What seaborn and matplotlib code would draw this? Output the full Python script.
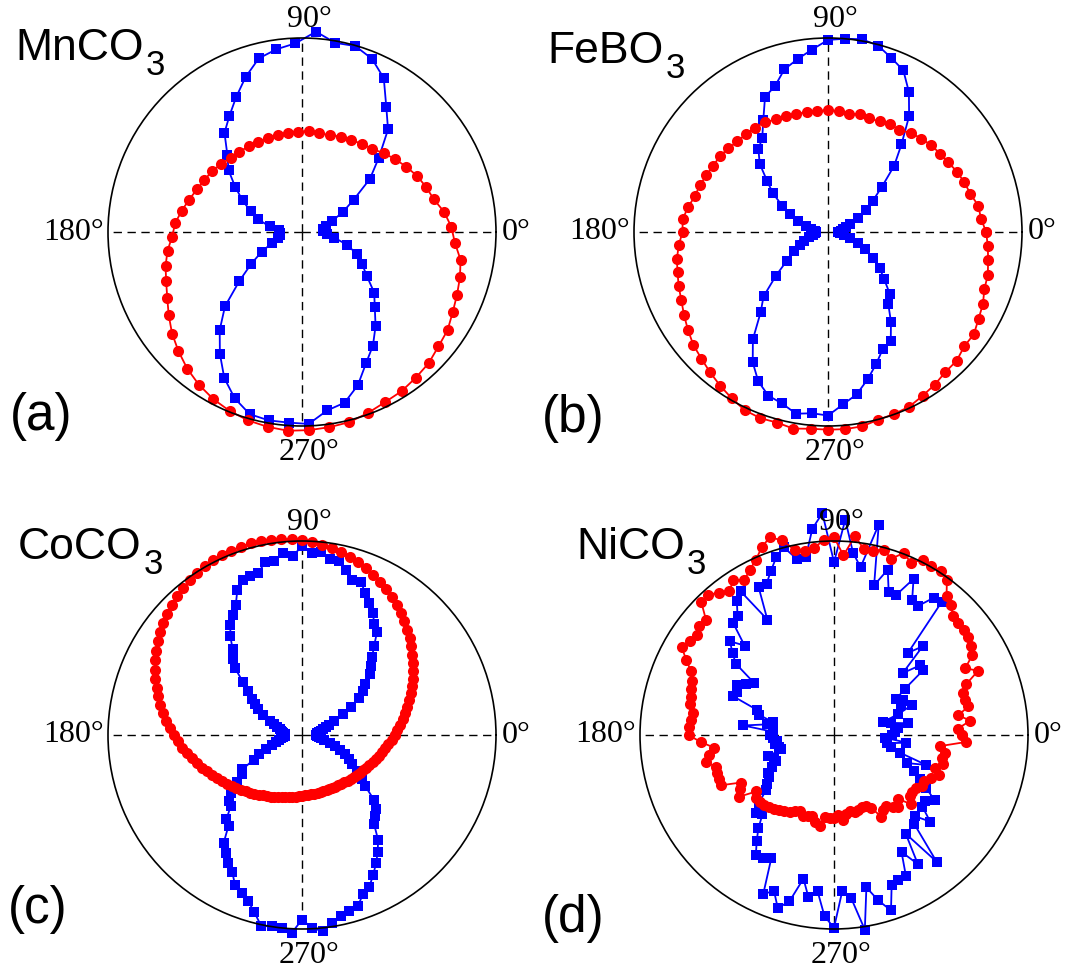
import numpy as np
import matplotlib
matplotlib.use("Agg")
import matplotlib.pyplot as plt
from matplotlib.transforms import offset_copy
import seaborn as sns

# ---------------------------------------------------------------------------
# Polar intensity patterns (normalised), angles in degrees
# ---------------------------------------------------------------------------
theta_a = np.arange(2, 360, 6)
theta_b = np.arange(0, 360, 5)
theta_cd = np.arange(0, 360, 3)

# MnCO3
mnco3_red = [0.77, 0.74, 0.70, 0.68, 0.66, 0.634, 0.61, 0.585, 0.56, 0.55,
             0.536, 0.53, 0.52, 0.516, 0.52, 0.518, 0.517, 0.515, 0.515, 0.515,
             0.52, 0.525, 0.53, 0.545, 0.56, 0.57, 0.585, 0.605, 0.63, 0.655,
             0.67, 0.70, 0.725, 0.745, 0.773, 0.81, 0.85, 0.885, 0.92, 0.95,
             0.975, 0.995, 1.01, 1.02, 1.027, 1.022, 1.016, 1.01, 0.993, 0.976,
             0.968, 0.953, 0.94, 0.918, 0.905, 0.88, 0.862, 0.847, 0.83, 0.79]
mnco3_blue = [0.11, 0.11, 0.125, 0.165, 0.234, 0.314, 0.444, 0.55, 0.69, 0.777,
              0.898, 0.963, 0.997, 0.99, 1.035, 0.973, 0.951, 0.922, 0.85, 0.774,
              0.706, 0.649, 0.554, 0.494, 0.415, 0.347, 0.286, 0.236, 0.17, 0.12,
              0.115, 0.115, 0.13, 0.163, 0.23, 0.308, 0.409, 0.552, 0.66, 0.757,
              0.853, 0.925, 0.977, 0.986, 0.985, 0.99, 0.929, 0.907, 0.841, 0.753,
              0.69, 0.616, 0.54, 0.486, 0.402, 0.351, 0.305, 0.243, 0.17, 0.13]

# FeBO3
febo3_red = [0.815, 0.792, 0.786, 0.76, 0.748, 0.734, 0.717, 0.705, 0.695, 0.681,
             0.666, 0.642, 0.641, 0.629, 0.623, 0.628, 0.618, 0.626, 0.628, 0.627,
             0.626, 0.632, 0.636, 0.64, 0.652, 0.657, 0.659, 0.66, 0.671, 0.68,
             0.684, 0.692, 0.703, 0.711, 0.733, 0.752, 0.75, 0.772, 0.791, 0.803,
             0.819, 0.834, 0.857, 0.881, 0.906, 0.923, 0.945, 0.968, 0.991, 1.014,
             1.021, 1.017, 1.029, 1.018, 1.019, 1.02, 1.017, 1.002, 0.998, 0.993,
             0.975, 0.96, 0.942, 0.938, 0.917, 0.918, 0.896, 0.881, 0.858, 0.853,
             0.838, 0.827]
febo3_blue = [0.05, 0.065, 0.08, 0.095, 0.12, 0.172, 0.225, 0.283, 0.363, 0.482,
              0.589, 0.729, 0.834, 0.919, 0.955, 0.995, 1.009, 1.0, 0.99, 0.944,
              0.905, 0.868, 0.80, 0.768, 0.667, 0.591, 0.558, 0.498, 0.41, 0.346,
              0.273, 0.215, 0.164, 0.117, 0.087, 0.065, 0.06, 0.065, 0.08, 0.10,
              0.13, 0.16, 0.20, 0.26, 0.35, 0.47, 0.54, 0.675, 0.776, 0.85,
              0.898, 0.915, 0.951, 0.938, 0.946, 0.892, 0.85, 0.787, 0.725, 0.667,
              0.647, 0.566, 0.483, 0.45, 0.378, 0.325, 0.265, 0.212, 0.165, 0.12,
              0.085, 0.06]

# CoCO3
coco3_red = [0.477, 0.492, 0.508, 0.525, 0.543, 0.561, 0.580, 0.600, 0.620, 0.640,
             0.661, 0.682, 0.704, 0.725, 0.746, 0.767, 0.788, 0.809, 0.829, 0.848,
             0.868, 0.886, 0.903, 0.920, 0.935, 0.949, 0.963, 0.975, 0.985, 0.995,
             1.003, 1.010, 1.015, 1.018, 1.021, 1.022, 1.021, 1.018, 1.015, 1.010,
             1.003, 0.995, 0.985, 0.975, 0.963, 0.949, 0.935, 0.920, 0.903, 0.886,
             0.868, 0.848, 0.829, 0.809, 0.788, 0.767, 0.746, 0.725, 0.704, 0.682,
             0.661, 0.640, 0.620, 0.600, 0.580, 0.561, 0.543, 0.525, 0.508, 0.492,
             0.477, 0.462, 0.448, 0.435, 0.422, 0.411, 0.400, 0.390, 0.380, 0.371,
             0.363, 0.356, 0.349, 0.343, 0.337, 0.332, 0.327, 0.323, 0.320, 0.317,
             0.314, 0.312, 0.311, 0.309, 0.309, 0.309, 0.309, 0.309, 0.311, 0.312,
             0.314, 0.317, 0.320, 0.323, 0.327, 0.332, 0.337, 0.343, 0.349, 0.356,
             0.363, 0.371, 0.380, 0.390, 0.400, 0.411, 0.422, 0.435, 0.448, 0.462]
coco3_blue = [0.07, 0.075, 0.08, 0.09, 0.10, 0.11, 0.13, 0.148, 0.18, 0.235,
              0.29, 0.35, 0.39, 0.42, 0.47, 0.50, 0.54, 0.59, 0.659, 0.685,
              0.728, 0.765, 0.801, 0.847, 0.838, 0.88, 0.918, 0.917, 0.947, 0.939,
              0.972, 0.925, 0.943, 0.907, 0.911, 0.867, 0.86, 0.855, 0.819, 0.752,
              0.713, 0.678, 0.628, 0.568, 0.53, 0.49, 0.41, 0.36, 0.32, 0.29,
              0.263, 0.225, 0.18, 0.155, 0.135, 0.12, 0.11, 0.105, 0.10, 0.09,
              0.086, 0.09, 0.10, 0.11, 0.12, 0.14, 0.16, 0.20, 0.24, 0.28,
              0.355, 0.369, 0.414, 0.473, 0.508, 0.519, 0.582, 0.602, 0.687, 0.724,
              0.76, 0.792, 0.848, 0.87, 0.899, 0.947, 1.008, 0.997, 1.0, 1.022,
              0.952, 0.996, 1.017, 0.982, 0.956, 0.941, 0.929, 0.878, 0.855, 0.808,
              0.764, 0.717, 0.667, 0.59, 0.563, 0.538, 0.50, 0.42, 0.383, 0.34,
              0.30, 0.271, 0.24, 0.21, 0.18, 0.15, 0.115, 0.10, 0.09, 0.08]

# NiCO3
nico3_red = [0.66, 0.64, 0.707, 0.648, 0.708, 0.70, 0.699, 0.73, 0.812, 0.76,
             0.823, 0.841, 0.856, 0.862, 0.86, 0.867, 0.901, 0.922, 0.99, 1.008,
             1.003, 1.015, 0.972, 1.006, 0.955, 0.989, 0.972, 0.973, 1.03, 0.927,
             1.02, 1.007, 0.97, 0.959, 0.976, 1.04, 1.071, 1.038, 0.989, 0.956,
             0.923, 0.952, 0.918, 0.944, 0.972, 0.967, 0.888, 0.896, 0.875, 0.887,
             0.907, 0.855, 0.807, 0.783, 0.775, 0.765, 0.76, 0.735, 0.743, 0.746,
             0.75, 0.688, 0.622, 0.65, 0.673, 0.632, 0.635, 0.635, 0.637, 0.54,
             0.56, 0.585, 0.495, 0.52, 0.515, 0.512, 0.50, 0.49, 0.48, 0.47,
             0.457, 0.44, 0.43, 0.449, 0.44, 0.434, 0.46, 0.475, 0.427, 0.43,
             0.43, 0.412, 0.44, 0.41, 0.403, 0.41, 0.408, 0.40, 0.401, 0.42,
             0.486, 0.46, 0.452, 0.48, 0.496, 0.464, 0.532, 0.503, 0.50, 0.503,
             0.526, 0.518, 0.55, 0.578, 0.547, 0.583, 0.57, 0.58, 0.549, 0.683]
nico3_blue = [0.30, 0.315, 0.33, 0.387, 0.30, 0.263, 0.349, 0.428, 0.38, 0.40,
              0.37, 0.434, 0.568, 0.57, 0.477, 0.646, 0.57, 0.881, 0.874, 0.792,
              0.806, 0.903, 0.792, 0.787, 0.896, 0.799, 1.109, 0.876, 0.943, 1.111,
              0.891, 1.145, 1.069, 0.928, 0.929, 1.002, 0.963, 0.907, 0.854, 0.857,
              0.687, 0.882, 0.852, 0.79, 0.777, 0.652, 0.722, 0.673, 0.626, 0.489,
              0.524, 0.564, 0.55, 0.555, 0.415, 0.40, 0.321, 0.35, 0.47, 0.314,
              0.33, 0.314, 0.298, 0.31, 0.29, 0.282, 0.357, 0.33, 0.327, 0.36,
              0.39, 0.40, 0.43, 0.449, 0.52, 0.567, 0.551, 0.62, 0.678, 0.74,
              0.732, 0.711, 0.896, 0.862, 0.938, 0.888, 0.757, 0.845, 0.81, 0.935,
              0.994, 0.807, 0.845, 1.016, 0.803, 0.883, 0.951, 0.829, 0.816, 0.817,
              0.696, 0.794, 0.629, 0.84, 0.62, 0.593, 0.667, 0.586, 0.58, 0.619,
              0.55, 0.50, 0.45, 0.404, 0.50, 0.352, 0.30, 0.276, 0.375, 0.262]

compounds = [("MnCO", "3"), ("FeBO", "3"), ("CoCO", "3"), ("NiCO", "3")]
panel_tags = ["(a)", "(b)", "(c)", "(d)"]
angle_labels = ["0°", "90°", "180°", "270°"]

# ---------------------------------------------------------------------------
W, H = 1074, 972
fig = plt.figure(figsize=(W / 100, H / 100), dpi=100)
renderer = fig.canvas.get_renderer()

R_PX = 194
layout = [
    dict(center=(302, 232), name=(15, 60), tag=(10, 430), ms_red=8.0, ms_blue=6.8),
    dict(center=(828, 232), name=(547, 63), tag=(542, 432), ms_red=8.0, ms_blue=6.8),
    dict(center=(302, 735), name=(18, 559), tag=(8, 923), ms_red=8.0, ms_blue=6.6),
    dict(center=(834, 735), name=(576, 559), tag=(542, 932), ms_red=8.0, ms_blue=6.6),
]
series = [
    (theta_a, mnco3_red, mnco3_blue),
    (theta_b, febo3_red, febo3_blue),
    (theta_cd, coco3_red, coco3_blue),
    (theta_cd, nico3_red, nico3_blue),
]


def trace(ax, theta_deg, r, color, marker, ms):
    theta_deg = np.asarray(theta_deg, dtype=float)
    r = np.asarray(r, dtype=float)
    th = np.deg2rad(np.append(theta_deg, theta_deg[0] + 360.0))
    rr = np.append(r, r[0])
    sns.lineplot(x=th, y=rr, ax=ax, color=color, marker=marker,
                 markersize=ms, markeredgewidth=0, markeredgecolor=color,
                 linewidth=1.3, sort=False, estimator=None, clip_on=False,
                 legend=False)


label_font = dict(family="Liberation Serif", fontsize=23, color="black")
sans = "Liberation Sans"

for i, (lay, (theta, red, blue)) in enumerate(zip(layout, series)):
    cx, cy = lay["center"]
    ax = fig.add_axes([(cx - R_PX) / W, (H - cy - R_PX) / H,
                       2 * R_PX / W, 2 * R_PX / H], projection="polar")
    trace(ax, theta, blue, "#0000ff", "s", lay["ms_blue"])
    trace(ax, theta, red, "#ff0000", "o", lay["ms_red"])

    ax.set_ylim(0, 1)
    ax.set_yticks([])
    ax.set_xticks(np.deg2rad([0, 90, 180, 270]))
    ax.set_xticklabels([])
    ax.tick_params(axis="x", length=0)
    ax.xaxis.grid(True, color="black", linestyle=(0, (6, 4)), linewidth=1.0)
    ax.yaxis.grid(False)
    ax.spines["polar"].set_linewidth(1.2)
    ax.spines["polar"].set_color("black")
    ax.set_xlabel("")
    ax.set_ylabel("")

    shifted = offset_copy(ax.transData, fig=fig, x=5, y=0, units="points")
    ax.text(0.0, 1.03, angle_labels[0], ha="left", va="center", **label_font)
    ax.text(np.pi / 2, 1.02, angle_labels[1], ha="center", va="bottom",
            transform=shifted, **label_font)
    ax.text(np.pi, 1.02, angle_labels[2], ha="right", va="center", **label_font)
    ax.text(3 * np.pi / 2, 1.06, angle_labels[3], ha="center", va="top",
            transform=shifted, **label_font)

    nx, ny = lay["name"]
    main, sub = compounds[i]
    t = fig.text(nx / W, 1 - ny / H, main, family=sans, fontsize=32,
                 va="baseline", ha="left")
    bb = t.get_window_extent(renderer)
    fig.text((bb.x1 + 2) / W, 1 - (ny + 15) / H, sub, family=sans,
             fontsize=25, va="baseline", ha="left")

    tx, ty = lay["tag"]
    fig.text(tx / W, 1 - ty / H, panel_tags[i], family=sans,
             fontsize=37, va="baseline", ha="left")

fig.savefig("out.png", dpi=100)
